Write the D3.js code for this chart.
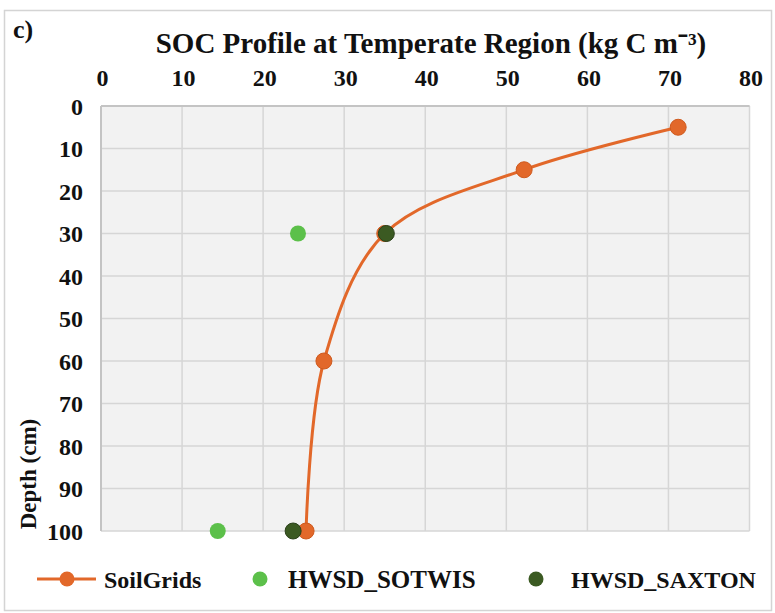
<!DOCTYPE html>
<html><head><meta charset="utf-8">
<script src="https://cdn.jsdelivr.net/npm/d3@7"></script>
<style>body{margin:0;background:#fff}svg{display:block}svg text{font-family:"Liberation Serif",serif !important;font-weight:bold;fill:#111}</style>
</head><body>
<script>
const depths = [5, 15, 30, 60, 100];
const soilGrids = [71.2, 52.2, 35.0, 27.5, 25.3];
const sotwisDepths = [30, 100];
const sotwis = [24.3, 14.4];
const saxtonDepths = [30, 100];
const saxton = [35.2, 23.7];
const xTicks = [0, 10, 20, 30, 40, 50, 60, 70, 80];
const yTicks = [0, 10, 20, 30, 40, 50, 60, 70, 80, 90, 100];
const seriesNames = ["SoilGrids", "HWSD_SOTWIS", "HWSD_SAXTON"];
const colors = ["#E2682A", "#5CC04A", "#3B5A22"];

const W = 775, H = 613;
const svg = d3.select("body").append("svg").attr("width", W).attr("height", H);
svg.append("rect").attr("x", 4.5).attr("y", 10.5).attr("width", 767).attr("height", 600)
  .attr("fill", "#fff").attr("stroke", "#d4d4d4").attr("stroke-width", 1.5);

const L = 101, R = 749.5, T = 106, B = 531;
const x = d3.scaleLinear().domain([0, 80]).range([L, R]);
const y = d3.scaleLinear().domain([0, 100]).range([T, B]);

svg.append("rect").attr("x", L).attr("y", T).attr("width", R - L).attr("height", B - T).attr("fill", "#f2f2f2");

const g = svg.append("g");
g.selectAll(".vg").data(xTicks).enter().append("line")
  .attr("x1", d => x(d)).attr("x2", d => x(d)).attr("y1", T).attr("y2", B)
  .attr("stroke", "#d6d6d6").attr("stroke-width", 1.5);
g.selectAll(".hg").data(yTicks).enter().append("line")
  .attr("y1", d => y(d)).attr("y2", d => y(d)).attr("x1", L).attr("x2", R)
  .attr("stroke", "#d6d6d6").attr("stroke-width", 1.5);
g.append("line").attr("x1", L).attr("x2", L).attr("y1", T).attr("y2", B).attr("stroke", "#c4c4c4").attr("stroke-width", 2);
g.append("line").attr("x1", L).attr("x2", R).attr("y1", T).attr("y2", T).attr("stroke", "#c4c4c4").attr("stroke-width", 2);

// Axes
const xAxis = svg.append("g").attr("transform", `translate(1,86)`)
  .call(d3.axisTop(x).tickValues(xTicks).tickSize(0).tickPadding(0));
xAxis.select(".domain").remove();
xAxis.selectAll("text").attr("font-size", 24).attr("dy", 0);

const yAxis = svg.append("g").attr("transform", `translate(83,0)`)
  .call(d3.axisLeft(y).tickValues(yTicks).tickSize(0).tickPadding(0));
yAxis.select(".domain").remove();
yAxis.selectAll("text").attr("font-size", 24).attr("dy", "0.34em");

// Titles
svg.append("text").attr("x", 13).attr("y", 38).attr("font-size", 26).text("c)");
svg.append("text").attr("x", 431).attr("y", 53).attr("text-anchor", "middle")
  .attr("font-size", 29).text("SOC Profile at Temperate Region (kg C m⁻³)");
svg.append("text").attr("transform", "translate(36,474) rotate(-90)").attr("text-anchor", "middle")
  .attr("font-size", 23).text("Depth (cm)");

// SoilGrids line
const sgData = depths.map((d, i) => ({ x: soilGrids[i], y: d }));
const line = d3.line().x(d => x(d.x)).y(d => y(d.y)).curve(d3.curveCatmullRom.alpha(0.5));
svg.append("path").datum(sgData).attr("d", line).attr("fill", "none")
  .attr("stroke", colors[0]).attr("stroke-width", 3);
svg.selectAll(".sg").data(sgData).enter().append("circle")
  .attr("cx", d => x(d.x)).attr("cy", d => y(d.y)).attr("r", 8)
  .attr("fill", colors[0]).attr("stroke", "#cf5a1e").attr("stroke-width", 1);

const sotData = sotwisDepths.map((d, i) => ({ x: sotwis[i], y: d }));
svg.selectAll(".so").data(sotData).enter().append("circle")
  .attr("cx", d => x(d.x)).attr("cy", d => y(d.y)).attr("r", 8).attr("fill", colors[1]);

const saxData = saxtonDepths.map((d, i) => ({ x: saxton[i], y: d }));
svg.selectAll(".sx").data(saxData).enter().append("circle")
  .attr("cx", d => x(d.x)).attr("cy", d => y(d.y)).attr("r", 8)
  .attr("fill", colors[2]).attr("stroke", "#2a401a").attr("stroke-width", 1);

// Legend
const ly = 579;
const leg = svg.append("g");
leg.append("line").attr("x1", 37).attr("x2", 96).attr("y1", ly).attr("y2", ly).attr("stroke", colors[0]).attr("stroke-width", 3);
leg.append("circle").attr("cx", 67).attr("cy", ly).attr("r", 7.5).attr("fill", colors[0]);
leg.append("text").attr("x", 104).attr("y", 588).attr("font-size", 24).text(seriesNames[0]);
leg.append("circle").attr("cx", 260).attr("cy", ly).attr("r", 7.5).attr("fill", colors[1]);
leg.append("text").attr("x", 288).attr("y", 588).attr("font-size", 25).text(seriesNames[1]);
leg.append("circle").attr("cx", 536).attr("cy", ly).attr("r", 7.5).attr("fill", colors[2]);
leg.append("text").attr("x", 571).attr("y", 588).attr("font-size", 24).text(seriesNames[2]);
</script>
</body></html>
